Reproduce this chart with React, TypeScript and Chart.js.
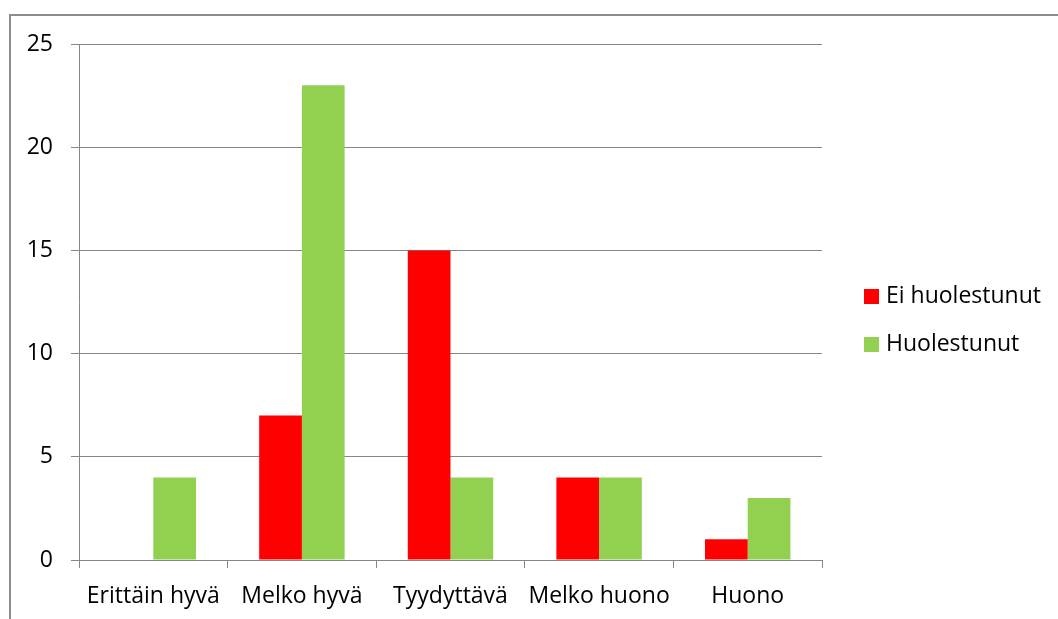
import React, { useEffect, useRef } from "react";
import { Chart, registerables } from "chart.js";

Chart.register(...registerables);

const categories = ["Erittäin hyvä", "Melko hyvä", "Tyydyttävä", "Melko huono", "Huono"];
const seriesNames = ["Ei huolestunut", "Huolestunut"];
const eiHuolestunut = [0, 7, 15, 4, 1];
const huolestunut = [4, 23, 4, 4, 3];
const seriesColors = ["#FF0000", "#92D050"];
const yTicks = [0, 5, 10, 15, 20, 25];

const FONT = "'Open Sans', Lato, sans-serif";
const FONT_SIZE = 23;
const GRID = "#868686";

const legendPlugin = {
  id: "sideLegend",
  afterDraw(chart: any) {
    const ctx = chart.ctx;
    const area = chart.chartArea;
    const x0 = area.right + 42;
    const y0 = 296.5;
    ctx.save();
    ctx.font = `${FONT_SIZE}px ${FONT}`;
    ctx.textBaseline = "middle";
    ctx.textAlign = "left";
    chart.data.datasets.forEach((ds: any, i: number) => {
      const cy = y0 + i * 48;
      ctx.fillStyle = ds.backgroundColor;
      ctx.fillRect(x0, cy - 7.5, 15, 15);
      ctx.fillStyle = "#000";
      ctx.fillText(ds.label, x0 + 22, cy);
    });
    ctx.restore();
  },
};

export default function App() {
  const ref = useRef<HTMLCanvasElement>(null);
  useEffect(() => {
    if (!ref.current) return;
    const chart = new Chart(ref.current, {
      type: "bar",
      data: {
        labels: categories,
        datasets: [
          { label: seriesNames[0], data: eiHuolestunut, backgroundColor: seriesColors[0], borderWidth: 0 },
          { label: seriesNames[1], data: huolestunut, backgroundColor: seriesColors[1], borderWidth: 0 },
        ],
      },
      options: {
        responsive: false,
        animation: false,
        layout: { padding: { left: 0, top: 44, right: 236, bottom: 0 } },
        datasets: { bar: { categoryPercentage: 0.575, barPercentage: 1 } } as any,
        plugins: { legend: { display: false }, tooltip: { enabled: false } },
        scales: {
          x: {
            grid: { display: true, drawOnChartArea: false, drawTicks: true, tickLength: 8, color: GRID, offset: true },
            border: { display: true, color: GRID, width: 1 },
            ticks: { color: "#000", font: { family: FONT, size: FONT_SIZE }, padding: 15, maxRotation: 0, autoSkip: false },
            afterFit: (s: any) => { s.height = 59; },
          },
          y: {
            min: 0,
            max: 25,
            afterBuildTicks: (s: any) => { s.ticks = yTicks.map((v) => ({ value: v })); },
            grid: { color: GRID, tickLength: 8, drawTicks: true },
            border: { display: true, color: GRID, width: 1 },
            ticks: { color: "#000", font: { family: FONT, size: FONT_SIZE }, padding: 18 },
            afterFit: (s: any) => { s.width = 79; },
          },
        },
      },
      plugins: [legendPlugin],
    });
    return () => chart.destroy();
  }, []);
  return (
    <div style={{ position: "fixed", left: 0, top: 0, width: 1058, height: 619, overflow: "hidden", background: "#fff" }}>
      <div style={{ position: "absolute", left: 9, top: 14, right: 0, bottom: 0, borderLeft: "2px solid #8c8c8c", borderTop: "2px solid #8c8c8c" }} />
      <canvas ref={ref} width={1058} height={619} style={{ position: "absolute", left: 0, top: 0 }} />
    </div>
  );
}
